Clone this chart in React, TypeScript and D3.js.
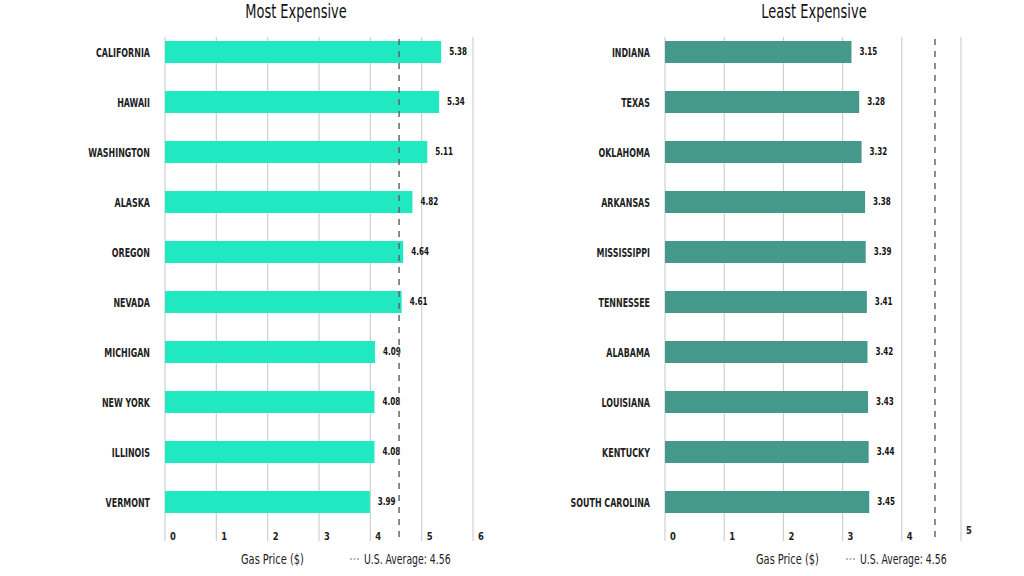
import React from "react";
import * as d3 from "d3";

// most expensive states
const topStates = ["CALIFORNIA", "HAWAII", "WASHINGTON", "ALASKA", "OREGON", "NEVADA", "MICHIGAN", "NEW YORK", "ILLINOIS", "VERMONT"];
const topPrices = [5.38, 5.34, 5.11, 4.82, 4.64, 4.61, 4.09, 4.08, 4.08, 3.99];

// least expensive states
const lowStates = ["INDIANA", "TEXAS", "OKLAHOMA", "ARKANSAS", "MISSISSIPPI", "TENNESSEE", "ALABAMA", "LOUISIANA", "KENTUCKY", "SOUTH CAROLINA"];
const lowPrices = [3.15, 3.28, 3.32, 3.38, 3.39, 3.41, 3.42, 3.43, 3.44, 3.45];

const topTicks = [0, 1, 2, 3, 4, 5, 6];
const lowTicks = [0, 1, 2, 3, 4, 5];
const usAverage = 4.56;

const FONT = "'DejaVu Sans Condensed', 'Liberation Sans Narrow', 'Roboto', sans-serif";

// condensed text: the source uses a very narrow face, so squeeze horizontally
function T(props: {x: number, y: number, sx: number, size: number, bold?: boolean, anchor?: string, fill?: string, children: any}) {
    const {x, y, sx, size, bold, anchor, fill, children} = props;
    return (
        <text transform={"translate(" + x + "," + y + ") scale(" + sx + ",1)"}
            textAnchor={anchor || "start"} fontSize={size} fontWeight={bold ? "bold" : "normal"} fill={fill || "#222"}>
            {children}
        </text>
    );
}

interface PanelProps {
    title: string;
    states: string[];
    prices: number[];
    ticks: number[];
    x0: number;
    x1: number;
    color: string;
    titleX: number;
    legendX: number;
    avgX: number;
}

function Panel(props: PanelProps) {
    const {title, states, prices, ticks, x0, x1, color, titleX, legendX, avgX} = props;

    var x = d3.scaleLinear()
        .domain([0, ticks[ticks.length - 1]])
        .range([x0, x1]);

    var y = d3.scaleBand()
        .domain(states)
        .range([27, 527])
        .paddingInner(0.56)
        .paddingOuter(0.28);

    const gridTop = 37;
    const gridBottom = 541;

    return (
        <g fontFamily={FONT}>
            <T x={titleX} y={18} sx={0.76} size={19} anchor="middle" fill="#111">{title}</T>

            {/* grid */}
            {ticks.map(t => (
                <g key={t}>
                    <line x1={x(t)} x2={x(t)} y1={gridTop} y2={gridBottom} stroke="#cfcfcf" strokeWidth={1.2} />
                    <T x={x(t) + 5} y={t == 5 && ticks.length == 6 ? 534 : 540} sx={0.85} size={11} bold>{t}</T>
                </g>
            ))}

            {/* bars */}
            {states.map((s, i) => (
                <g key={s}>
                    <rect x={x(0)} y={y(s) || 0} width={x(prices[i]) - x(0)} height={y.bandwidth()} fill={color} />
                    <T x={x0 - 15} y={(y(s) || 0) + y.bandwidth() / 2 + 5} sx={0.68} size={13} bold anchor="end">{s}</T>
                    <T x={x(prices[i]) + 8} y={(y(s) || 0) + y.bandwidth() / 2 + 3} sx={0.8} size={10} bold fill="#111">{prices[i].toFixed(2)}</T>
                </g>
            ))}

            {/* average */}
            <line x1={x(usAverage)} x2={x(usAverage)} y1={gridTop + 2} y2={gridBottom} stroke="#666" strokeWidth={1.5} strokeDasharray="6,6" />

            {/* legend */}
            <T x={legendX} y={564} sx={0.78} size={14}>Gas Price ($)</T>
            <line x1={avgX} x2={avgX + 9} y1={559} y2={559} stroke="#777" strokeWidth={1.2} strokeDasharray="2,1.5" />
            <T x={avgX + 14} y={564} sx={0.74} size={14}>U.S. Average: {usAverage}</T>
        </g>
    );
}

export default function App() {
    return (
        <svg width={1024} height={576} style={{position: "absolute", left: 0, top: 0, background: "#fff"}}>
            <Panel title="Most Expensive" states={topStates} prices={topPrices} ticks={topTicks}
                x0={165} x1={473} color="#20e8c0" titleX={296} legendX={241} avgX={350} />
            <Panel title="Least Expensive" states={lowStates} prices={lowPrices} ticks={lowTicks}
                x0={665} x1={961} color="#45998a" titleX={814} legendX={756} avgX={846} />
        </svg>
    );
}
